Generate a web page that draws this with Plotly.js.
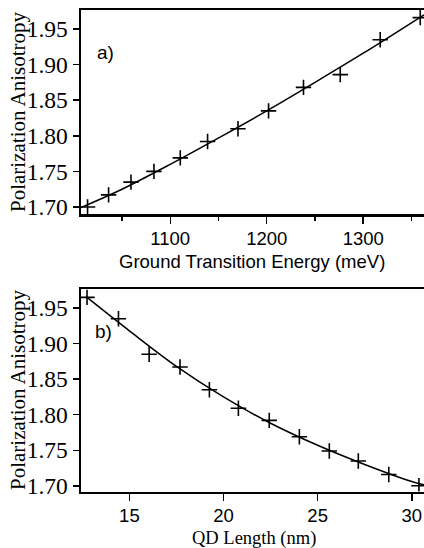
<!DOCTYPE html>
<html>
<head>
<meta charset="utf-8">
<script src="https://cdn.plot.ly/plotly-3.0.1.min.js"></script>
<style>html,body{margin:0;padding:0;background:#fff;}#chart{width:424px;height:548px;}</style>
</head>
<body>
<div id="chart"></div>
<script>
// Panel a) data: ground transition energy (meV) vs polarization anisotropy
const energy = [1014.3, 1036.1, 1059.3, 1083.1, 1110.4, 1138.7, 1170.2, 1201.9, 1238.1, 1276.2, 1317.6, 1359.1];
const anisotropyA = [1.700, 1.717, 1.735, 1.750, 1.769, 1.792, 1.810, 1.835, 1.868, 1.886, 1.935, 1.966];
// Panel a) fit curve (read from picture)
const fitEnergy = [1007, 1050, 1100, 1150, 1200, 1250, 1300, 1363];
const fitAnisotropyA = [1.699, 1.725, 1.760, 1.797, 1.835, 1.875, 1.916, 1.970];

// Panel b) data: QD length (nm) vs polarization anisotropy
const qdLength = [12.75, 14.42, 16.05, 17.69, 19.25, 20.79, 22.43, 24.03, 25.62, 27.16, 28.78, 30.38];
const anisotropyB = [1.965, 1.935, 1.885, 1.867, 1.835, 1.809, 1.792, 1.769, 1.749, 1.735, 1.716, 1.700];
// Panel b) fit curve (read from picture)
const fitLength = [12.7, 15, 17.5, 20, 22.5, 25, 27.5, 30, 30.7];
const fitAnisotropyB = [1.966, 1.918, 1.868, 1.825, 1.788, 1.757, 1.730, 1.706, 1.701];

const yTicks = [1.70, 1.75, 1.80, 1.85, 1.90, 1.95];
const yTickText = ['1.70', '1.75', '1.80', '1.85', '1.90', '1.95'];
const xTicksA = [1100, 1200, 1300];
const xTicksB = [15, 20, 25, 30];

const serif = 'Liberation Serif, Times New Roman, serif';
const sans = 'Liberation Sans, Arial, sans-serif';

const markerStyle = {symbol: 'cross-thin-open', size: 11, color: '#000', line: {color: '#000', width: 1.6}};

const traces = [
  {x: fitEnergy, y: fitAnisotropyA, mode: 'lines', line: {color: '#000', width: 1.5, shape: 'spline'}, xaxis: 'x', yaxis: 'y', hoverinfo: 'skip'},
  {x: energy, y: anisotropyA, mode: 'markers', marker: markerStyle, xaxis: 'x', yaxis: 'y'},
  {x: fitLength, y: fitAnisotropyB, mode: 'lines', line: {color: '#000', width: 1.5, shape: 'spline'}, xaxis: 'x2', yaxis: 'y2', hoverinfo: 'skip'},
  {x: qdLength, y: anisotropyB, mode: 'markers', marker: markerStyle, xaxis: 'x2', yaxis: 'y2'}
];

const axisCommon = {
  showgrid: false, zeroline: false, showline: true, linecolor: '#000', linewidth: 2.5,
  ticks: 'outside', tickcolor: '#000', tickwidth: 1.5, automargin: false
};

const layout = {
  width: 424, height: 548,
  margin: {l: 81, r: 0, t: 0, b: 0},
  paper_bgcolor: '#fff', plot_bgcolor: '#fff',
  showlegend: false,
  xaxis: Object.assign({}, axisCommon, {
    domain: [0, 1], anchor: 'y', range: [1007.5, 1363], mirror: true,
    tickmode: 'array', tickvals: xTicksA, ticktext: xTicksA.map(String),
    ticklen: 7, ticklabelstandoff: -1, tickfont: {family: sans, size: 18.5, color: '#000'},
    minor: {tickmode: 'array', tickvals: [1050, 1150, 1250, 1350], ticks: 'outside', ticklen: 4, tickcolor: '#000', tickwidth: 1.5}
  }),
  yaxis: Object.assign({}, axisCommon, {
    domain: [1 - 214 / 548, 1 - 10 / 548], anchor: 'x', range: [1.6902, 1.9767],
    tickmode: 'array', tickvals: yTicks, ticktext: yTickText,
    ticklen: 6, tickfont: {family: serif, size: 23.5, color: '#000'}
  }),
  xaxis2: Object.assign({}, axisCommon, {
    domain: [0, 1], anchor: 'y2', range: [12.43, 30.65], mirror: true,
    tickmode: 'array', tickvals: xTicksB, ticktext: xTicksB.map(String),
    ticklen: 7, ticklabelstandoff: -1, tickfont: {family: sans, size: 18.5, color: '#000'}
  }),
  yaxis2: Object.assign({}, axisCommon, {
    domain: [1 - 491.5 / 548, 1 - 289 / 548], anchor: 'x2', range: [1.692, 1.9768],
    tickmode: 'array', tickvals: yTicks, ticktext: yTickText,
    ticklen: 6, tickfont: {family: serif, size: 23.5, color: '#000'}
  }),
  annotations: [
    {text: 'Polarization Anisotropy', xref: 'paper', yref: 'paper', x: -81 / 343 + 18 / 343, y: 1 - 112 / 548,
     xanchor: 'center', yanchor: 'middle', textangle: -90, showarrow: false, font: {family: serif, size: 21, color: '#000'}},
    {text: 'Polarization Anisotropy', xref: 'paper', yref: 'paper', x: -81 / 343 + 18 / 343, y: 1 - 390 / 548,
     xanchor: 'center', yanchor: 'middle', textangle: -90, showarrow: false, font: {family: serif, size: 21, color: '#000'}},
    {text: 'Ground Transition Energy (meV)', xref: 'paper', yref: 'paper', x: (252 - 81) / 343, y: 1 - 261 / 548,
     xanchor: 'center', yanchor: 'middle', showarrow: false, font: {family: sans, size: 18.5, color: '#000'}},
    {text: 'QD Length (nm)', xref: 'paper', yref: 'paper', x: (254 - 81) / 343, y: 1 - 538 / 548,
     xanchor: 'center', yanchor: 'middle', showarrow: false, font: {family: serif, size: 18.5, color: '#000'}},
    {text: 'a)', xref: 'paper', yref: 'paper', x: (95 - 81) / 343, y: 1 - 52 / 548,
     xanchor: 'left', yanchor: 'middle', showarrow: false, font: {family: sans, size: 19, color: '#000'}},
    {text: 'b)', xref: 'paper', yref: 'paper', x: (93 - 81) / 343, y: 1 - 331 / 548,
     xanchor: 'left', yanchor: 'middle', showarrow: false, font: {family: sans, size: 19, color: '#000'}}
  ]
};

Plotly.newPlot('chart', traces, layout, {staticPlot: true, displayModeBar: false});
</script>
</body>
</html>
